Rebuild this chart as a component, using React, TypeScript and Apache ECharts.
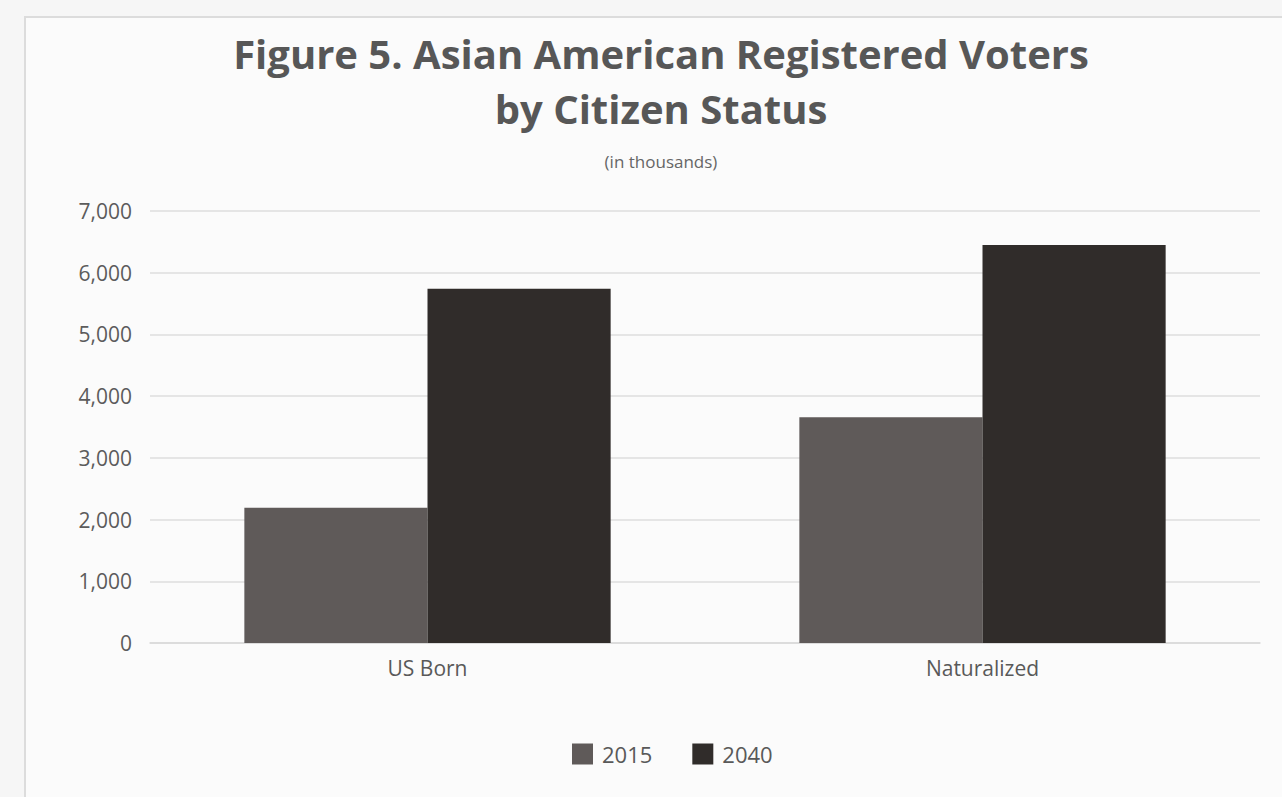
import React, { useEffect, useRef } from "react";
import * as echarts from "echarts";

const categories = ["US Born", "Naturalized"];
const series2015 = [2190, 3660];
const series2040 = [5740, 6450];
const seriesNames = ["2015", "2040"];
const yTicks = { min: 0, max: 7000, interval: 1000 };

export default function App() {
  const ref = useRef<HTMLDivElement>(null);
  useEffect(() => {
    document.body.style.margin = "0";
    const chart = echarts.init(ref.current!, null, { renderer: "svg" });
    const font = "'Open Sans', sans-serif";
    chart.setOption({
      animation: false,
      backgroundColor: "#f6f6f6",
      graphic: [
        {
          type: "rect",
          shape: { x: 25, y: 17, width: 1300, height: 800 },
          style: { fill: "#fbfbfb", stroke: "#dcdcdc", lineWidth: 2 },
          z: -10,
          silent: true,
        },
      ],
      title: [
        {
          text: "Figure 5. Asian American Registered Voters\nby Citizen Status",
          left: 656,
          top: 21,
          textAlign: "center",
          textStyle: {
            fontFamily: font,
            fontWeight: "bold",
            fontSize: 40,
            lineHeight: 55,
            color: "#575757",
          },
        },
        {
          text: "(in thousands)",
          left: 656,
          top: 148,
          textAlign: "center",
          textStyle: {
            fontFamily: font,
            fontWeight: "normal",
            fontSize: 17,
            color: "#666666",
          },
        },
      ],
      legend: {
        data: seriesNames,
        bottom: 27,
        left: 567,
        itemWidth: 21,
        itemHeight: 21,
        itemGap: 40,
        icon: "rect",
        textStyle: { fontFamily: font, fontSize: 22, color: "#595959", padding: [0, 0, 0, 4] },
      },
      grid: { left: 150, right: 22, top: 211, bottom: 154 },
      xAxis: {
        type: "category",
        data: categories,
        axisLine: { show: true, lineStyle: { color: "#d9d9d9", width: 1.5 } },
        axisTick: { show: false },
        axisLabel: { fontFamily: font, fontSize: 21, color: "#595959", margin: 14 },
      },
      yAxis: {
        type: "value",
        min: yTicks.min,
        max: yTicks.max,
        interval: yTicks.interval,
        axisLine: { show: false },
        axisTick: { show: false },
        splitLine: { lineStyle: { color: "#dedede", width: 1.5 } },
        axisLabel: {
          fontFamily: font,
          fontSize: 21,
          color: "#5c5c5c",
          margin: 18,
          formatter: (v: number) => v.toLocaleString("en-US"),
        },
      },
      series: [
        {
          name: seriesNames[0],
          type: "bar",
          data: series2015,
          barGap: "0%",
          barCategoryGap: "34%",
          itemStyle: { color: "#5f5a59" },
        },
        {
          name: seriesNames[1],
          type: "bar",
          data: series2040,
          barGap: "0%",
          barCategoryGap: "34%",
          itemStyle: { color: "#302c2a" },
        },
      ],
    });
    return () => chart.dispose();
  }, []);
  return (
    <div
      ref={ref}
      style={{ position: "absolute", left: 0, top: 0, width: 1282, height: 797 }}
    />
  );
}
